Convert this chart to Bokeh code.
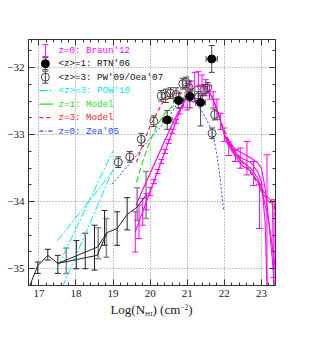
import numpy as np
from bokeh.plotting import figure
from bokeh.layouts import column
from bokeh.models import (Range1d, LinearAxis, Whisker, ColumnDataSource, Label, FixedTicker,
                          TeeHead, Div, CustomJSTickFormatter)
from bokeh.embed import file_html
from bokeh.resources import INLINE

# ---------------- data ----------------
# Braun'12 (z=0) main curve with error bars
br_x = [19.6, 19.7, 19.8, 19.9, 20.0, 20.1, 20.2, 20.3, 20.4, 20.5, 20.6, 20.7, 20.8, 20.9, 21.0, 21.1, 21.2, 21.3, 21.4, 21.5, 21.6, 21.7, 21.8, 21.9, 22.0]
br_y = [-34.45, -34.30, -34.15, -34.00, -33.85, -33.70, -33.55, -33.40, -33.25, -33.10, -32.95, -32.80, -32.65, -32.53, -32.43, -32.35, -32.29, -32.26, -32.26, -32.30, -32.37, -32.48, -32.62, -32.80, -33.00]
br_err = [0.30, 0.25, 0.20, 0.12, 0.06, 0.03, 0.03, 0.03, 0.03, 0.03, 0.03, 0.03, 0.04, 0.06, 0.20, 0.15, 0.22, 0.20, 0.15, 0.12, 0.10, 0.12, 0.15, 0.12, 0.10]
# second Braun'12 curve at low column density
br2_x = [19.62, 19.8, 20.0, 20.2, 20.4, 20.6, 20.8, 21.0]
br2_y = [-34.05, -33.82, -33.58, -33.33, -33.08, -32.84, -32.62, -32.43]
# Braun'12 high column density tails
t1_x = [22.0, 22.1, 22.3, 22.5, 22.7, 22.9, 23.0, 23.1, 23.2, 23.3, 23.35]
t1_y = [-33.00, -33.08, -33.22, -33.28, -33.34, -33.42, -33.50, -33.80, -34.30, -34.90, -35.25]
t2_x = [22.0, 22.1, 22.3, 22.5, 22.7, 22.9, 23.0, 23.1, 23.15]
t2_y = [-33.00, -33.10, -33.28, -33.36, -33.41, -33.55, -33.70, -34.30, -35.25]
t3_x = [22.0, 22.1, 22.3, 22.5, 22.7, 22.9, 23.0, 23.2, 23.35, 23.38]
t3_y = [-33.00, -33.12, -33.30, -33.42, -33.49, -33.65, -33.80, -34.30, -34.90, -35.00]
t4_x = [22.0, 22.1, 22.3, 22.5, 22.7, 22.9, 23.0, 23.2, 23.3, 23.33]
t4_y = [-33.00, -33.15, -33.33, -33.47, -33.54, -33.70, -33.85, -34.00, -34.03, -35.25]
tail_err_x = [22.12, 22.30, 22.43, 22.61, 22.79, 22.95, 23.15, 23.34]
tail_err_lo = [-33.31, -33.40, -33.50, -33.60, -33.76, -34.40, -35.25, -35.13]
tail_err_hi = [-33.11, -33.22, -33.20, -33.10, -33.40, -33.74, -33.30, -33.97]

# low column density measurements (black line)
lo1_x = [16.74, 16.97, 17.24, 17.51, 18.57, 18.84, 19.11, 19.38, 19.65, 19.89]
lo1_y = [-35.27, -34.955, -34.80, -34.92, -34.68, -34.46, -34.40, -34.19, -34.08, -33.90]
lo2_x = [17.51, 18.57, 18.84]
lo2_y = [-34.92, -34.80, -34.46]
lob_x = [16.97, 17.24, 17.51, 18.01, 18.25, 18.50, 18.77, 19.11, 19.38]
lob_lo = [-35.07, -34.87, -35.07, -35.00, -35.00, -35.02, -34.65, -34.65, -34.42]
lob_hi = [-34.90, -34.71, -34.80, -34.58, -34.47, -34.35, -34.13, -34.15, -33.94]
log_x = [17.74, 18.60, 18.82, 19.65, 19.89]
log_lo = [-35.07, -34.85, -34.83, -34.28, -34.25]
log_hi = [-34.69, -34.39, -34.25, -33.79, -33.55]

# RTN'06 (<z>=1), filled circles
rtn_x = [20.46, 20.77, 21.07, 21.36, 21.66]
rtn_y = [-32.78, -32.49, -32.43, -32.52, -31.87]
rtn_lo = [-32.92, -32.60, -32.60, -32.87, -32.07]
rtn_hi = [-32.64, -32.38, -32.32, -32.42, -31.67]
rtn_xerr = [0.13, 0.13, 0.13, 0.13, 0.15]

# PW'09/Oea'07 (<z>=3), open circles
pw_x = [19.14, 19.45, 19.76, 20.10, 20.30, 20.42, 20.55, 20.70, 20.88, 20.97, 21.05, 21.30, 21.45, 21.55, 21.74, 21.67]
pw_y = [-33.41, -33.33, -33.07, -32.80, -32.42, -32.42, -32.38, -32.40, -32.24, -32.22, -32.30, -32.44, -32.33, -32.30, -32.70, -32.98]
pw_err = [0.08, 0.08, 0.09, 0.08, 0.08, 0.10, 0.08, 0.10, 0.08, 0.08, 0.10, 0.08, 0.08, 0.08, 0.08, 0.08]

# POW'10 (<z>=3) power laws
c1_x = [17.50, 19.00]
c1_y = [-34.58, -33.54]
c2_x = [17.50, 19.00]
c2_y = [-34.98, -33.24]
c3_x = [17.63, 19.00]
c3_y = [-35.28, -33.52]

# z=1 model
g_x = [19.63, 19.8, 20.0, 20.2, 20.4, 20.6, 20.8, 21.0, 21.2, 21.35, 21.5, 21.7, 21.9, 22.1, 22.3, 22.5, 22.7, 22.9, 23.1, 23.3, 23.38]
g_y = [-33.71, -33.40, -33.09, -32.85, -32.68, -32.58, -32.50, -32.44, -32.33, -32.27, -32.30, -32.46, -32.80, -33.06, -33.25, -33.40, -33.53, -33.70, -33.88, -34.02, -34.08]
# z=3 model
r_x = [19.63, 19.8, 20.0, 20.2, 20.4, 20.6, 20.8, 21.0, 21.2, 21.35, 21.5, 21.7, 21.9, 22.1, 22.3, 22.5, 22.7, 22.9, 23.1, 23.3, 23.35, 23.38]
r_y = [-33.41, -33.15, -32.87, -32.66, -32.45, -32.39, -32.38, -32.36, -32.30, -32.27, -32.30, -32.47, -32.80, -33.07, -33.27, -33.42, -33.56, -33.72, -33.90, -34.00, -34.05, -34.25]
# Zea'05 (z=0)
b_x = [18.97, 19.5, 20.0, 20.19, 20.46, 20.73, 21.0, 21.27, 21.49, 21.67, 21.8, 21.9, 21.98]
b_y = [-33.74, -33.40, -33.05, -32.94, -32.77, -32.54, -32.44, -32.54, -32.74, -32.94, -33.29, -33.70, -34.13]

x_ticks = [17, 18, 19, 20, 21, 22, 23]
x_labels = ["17", "18", "19", "20", "21", "22", "23"]
y_ticks = [-35, -34, -33, -32]
y_labels = ["\u221235", "\u221234", "\u221233", "\u221232"]

legend_texts = ["z=0: Braun'12", "<z>=1: RTN'06", "<z>=3: PW'09/Oea'07", "<z>=3: POW'10",
                "z=1: Model", "z=3: Model", "z=0: Zea'05"]

MAG = "#ff00ff"
CYAN = "#00e5ee"
GREEN = "#22dd22"
RED = "#ff2222"
BLUE = "#3344ff"
GRAY = "#8a8a8a"
SERIF = "Liberation Serif"
MONO = "Liberation Mono"

X0, X1, Y0, Y1 = 16.72, 23.38, -35.25, -31.58

p = figure(width=314, height=305, x_range=Range1d(X0, X1), y_range=Range1d(Y0, Y1),
           output_backend="svg", toolbar_location=None,
           min_border_left=28, min_border_right=39, min_border_top=39, min_border_bottom=20)
p.background_fill_color = "white"
p.border_fill_color = "white"
p.outline_line_color = "#333333"
p.outline_line_width = 1

xt = FixedTicker(ticks=x_ticks, minor_ticks=list(np.round(np.arange(16.8, 23.4, 0.2), 2)))
yt = FixedTicker(ticks=y_ticks, minor_ticks=list(np.round(np.arange(-35.25, -31.5, 0.25), 2)))


def style_axis(ax, ticker, show_labels, overrides=None):
    ax.ticker = ticker
    ax.axis_line_color = "#333333"
    ax.major_tick_in = 6
    ax.major_tick_out = 0
    ax.minor_tick_in = 3
    ax.minor_tick_out = 0
    ax.major_tick_line_color = "#333333"
    ax.minor_tick_line_color = "#333333"
    ax.major_label_text_font = SERIF
    ax.major_label_text_color = "#222222"
    ax.major_label_text_font_size = "11px"
    if show_labels:
        ax.major_label_standoff = 4
        ax.major_label_overrides = overrides
    else:
        ax.major_label_standoff = 0
        ax.formatter = CustomJSTickFormatter(code="return ''")


style_axis(p.xaxis[0], xt, True, {t: l for t, l in zip(x_ticks, x_labels)})
style_axis(p.yaxis[0], yt, True, {t: l for t, l in zip(y_ticks, y_labels)})
top = LinearAxis()
right = LinearAxis()
style_axis(top, xt, False)
style_axis(right, yt, False)
p.add_layout(top, "above")
p.add_layout(right, "right")

p.xgrid.ticker = xt
p.ygrid.ticker = yt
for g in (p.xgrid[0], p.ygrid[0]):
    g.grid_line_color = "#888888"
    g.grid_line_dash = "1 2"
    g.grid_line_width = 1


def whisk(x, lo, hi, color, dim="height", size=6, width=1):
    src = ColumnDataSource(dict(base=x, lower=lo, upper=hi))
    w = Whisker(source=src, base="base", lower="lower", upper="upper", dimension=dim,
                line_color=color, line_width=width,
                upper_head=TeeHead(size=size, line_color=color, line_width=width),
                lower_head=TeeHead(size=size, line_color=color, line_width=width))
    p.add_layout(w)


# POW'10 lines
for cx, cy in ((c1_x, c1_y), (c2_x, c2_y), (c3_x, c3_y)):
    p.line(cx, cy, line_color=CYAN, line_width=1, line_dash="8 2 2 2")

# low column density data
whisk(log_x, log_lo, log_hi, GRAY, width=1.5)
whisk(lob_x, lob_lo, lob_hi, "#222222")
p.line(lo1_x, lo1_y, line_color="#222222", line_width=1)
p.line(lo2_x, lo2_y, line_color="#222222", line_width=1)

# models
p.line(b_x, b_y, line_color=BLUE, line_width=1, line_dash="2 2")
p.line(g_x, g_y, line_color=GREEN, line_width=1.2, line_dash="6 3")
p.line(r_x, r_y, line_color=RED, line_width=1.2, line_dash="4 3")

# Braun'12
p.line(br_x, br_y, line_color=MAG, line_width=1.2)
p.line(br2_x, br2_y, line_color=MAG, line_width=1.2)
for tx, ty in ((t1_x, t1_y), (t2_x, t2_y), (t3_x, t3_y), (t4_x, t4_y)):
    p.line(tx, ty, line_color=MAG, line_width=1.1)
whisk(br_x, [y - e for y, e in zip(br_y, br_err)], [y + e for y, e in zip(br_y, br_err)], MAG, size=6)
whisk(tail_err_x, tail_err_lo, tail_err_hi, MAG, size=7)

# PW'09 / Oea'07
whisk(pw_x, [y - e for y, e in zip(pw_y, pw_err)], [y + e for y, e in zip(pw_y, pw_err)], "#444444", size=6)
p.scatter(pw_x, pw_y, marker="circle", size=8, fill_color=None, line_color="#444444", line_width=1)

# RTN'06
whisk(rtn_x, rtn_lo, rtn_hi, "#444444", size=6)
whisk(rtn_y, [x - e for x, e in zip(rtn_x, rtn_xerr)], [x + e for x, e in zip(rtn_x, rtn_xerr)],
      "#444444", dim="width", size=6)
p.scatter(rtn_x, rtn_y, marker="circle", size=8, fill_color="black", line_color="black")


# ---------------- legend (layout in pixels, mapped to data space) ----------------
def px2x(px):
    return 17 + (px - 38.5) / 37.08


def py2y(py):
    return -32 - (py - 67) / 67.0


rows_py = [50, 63, 76.5, 90, 103.5, 117, 130.5]
colors = [MAG, "#111111", "#111111", CYAN, GREEN, RED, BLUE]
sym_x = px2x(45)
for txt, py, col in zip(legend_texts, rows_py, colors):
    p.add_layout(Label(x=px2x(58), y=py2y(py), text=txt, text_color=col, text_font=MONO,
                       text_font_size="9.2px", text_baseline="middle", text_align="left"))
# symbols
whisk([sym_x], [py2y(rows_py[0] + 6)], [py2y(rows_py[0] - 6)], MAG, size=6)
whisk([sym_x], [py2y(rows_py[1] + 6)], [py2y(rows_py[1] - 6)], "#444444", size=6)
p.scatter([sym_x], [py2y(rows_py[1])], marker="circle", size=8, fill_color="black", line_color="black")
whisk([sym_x], [py2y(rows_py[2] + 6)], [py2y(rows_py[2] - 6)], "#444444", size=6)
p.scatter([sym_x], [py2y(rows_py[2])], marker="circle", size=8, fill_color=None, line_color="#444444")
for i, (col, dash) in enumerate([(CYAN, "8 2 2 2"), (GREEN, "solid"), (RED, "4 3"), (BLUE, "4 2 1 2")]):
    py = rows_py[3 + i]
    p.line([px2x(39), px2x(53)], [py2y(py), py2y(py)], line_color=col, line_width=1.2, line_dash=dash)

# x axis title with subscript / superscript
title = Div(
    text=('<div style="position:relative;top:-5px;width:247px;margin-left:28px;text-align:center;'
          'font-family:\'Liberation Serif\',serif;font-size:13px;line-height:15px;color:#222222;">'
          'Log(N<sub style="font-size:7px;vertical-align:-2px;">HI</sub>) '
          '(cm<sup style="font-size:7.5px;vertical-align:4px;">\u22122</sup>)</div>'),
    width=314, height=39, margin=(0, 0, 0, 0))

layout = column(p, title, spacing=0)
open("out.html", "w").write(file_html(layout, INLINE))
